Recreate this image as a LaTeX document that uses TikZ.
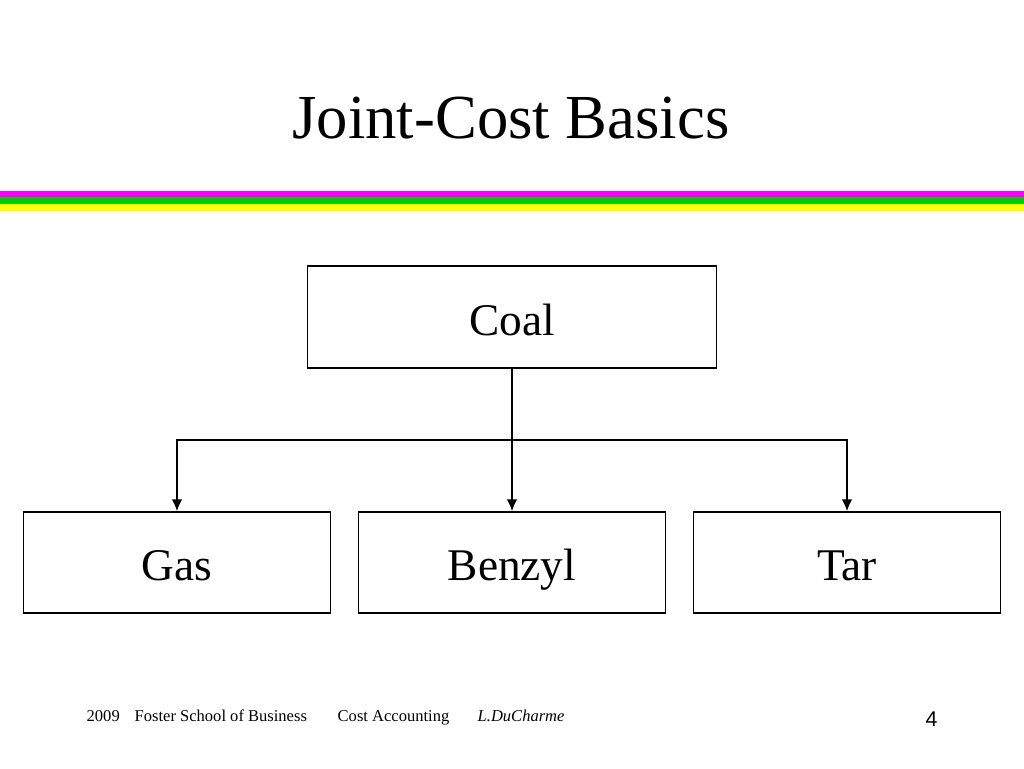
\documentclass[tikz,border=0pt]{standalone}
\usepackage{fontspec}
\setmainfont{Liberation Serif}
\newfontfamily\numfont{Liberation Sans}
\usetikzlibrary{positioning,arrows.meta}
\definecolor{stripeM}{RGB}{255,0,255}
\definecolor{stripeG}{RGB}{0,204,0}
\definecolor{stripeY}{RGB}{255,255,0}

\begin{document}
\begin{tikzpicture}[x=0.75pt,y=-0.75pt,
    box/.style={draw,line width=1pt,fill=white,text height=27pt,text depth=0pt,
      font=\fontsize{34}{40}\selectfont},
    link/.style={line width=1.5pt},
    foot/.style={anchor=base west,font=\fontsize{12.4}{14}\selectfont}]
    \useasboundingbox (0,0) rectangle (1024,768);
    % stripes under the title
    \fill[stripeM] (0,191) rectangle (1024,197);
    \fill[stripeG] (0,197) rectangle (1024,203.5);
    \fill[stripeY] (0,203.5) rectangle (1024,210.5);
    \node[anchor=base,font=\fontsize{47}{52}\selectfont] (T) at (511,138) {Joint-Cost Basics};
    \node[box,minimum width=306.75pt,minimum height=76.5pt] (Coal) at (512,317) {Coal};
    \foreach \x/\lab in {177/Gas,512/Benzyl,847/Tar} {
      \node[box,minimum width=230pt,minimum height=75.75pt] (\lab) at (\x,562.5) {\lab};
    }
    \coordinate (S) at (512,440);
    \draw[link] (Coal) -- (S);
    \draw[link,-{Latex[length=9pt,width=8pt]}] (S) -| (Gas);
    \draw[link,-{Latex[length=9pt,width=8pt]}] (S) -- (Benzyl);
    \draw[link,-{Latex[length=9pt,width=8pt]}] (S) -| (Tar);
    % footer
    \node[foot] (Y) at (82,721) {2009};
    \node[foot] (F) at (130,721) {Foster School of Business};
    \node[foot] (A) at (333,721) {Cost Accounting};
    \node[foot] (D) at (473,721) {\itshape L.DuCharme};
    \node[anchor=base,font=\numfont\fontsize{16}{18}\selectfont] (P) at (931.5,726) {4};
  \end{tikzpicture}
\end{document}
